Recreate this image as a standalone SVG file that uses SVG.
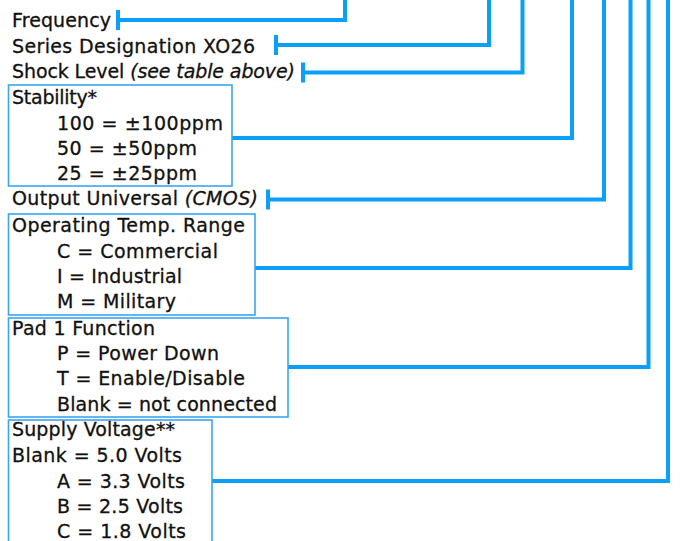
<svg xmlns="http://www.w3.org/2000/svg" width="680" height="541" viewBox="0 0 680 541">
<style>
text{font-family:"DejaVu Sans","Liberation Sans",sans-serif;font-size:19px;fill:#111;stroke:#111;stroke-width:0.3;}
.it{font-style:italic;}
.box{fill:none;stroke:#3aa6ee;stroke-width:1.6;}
.conn{fill:none;stroke:#0aa0fa;stroke-width:4;stroke-linejoin:miter;}
.tk{marker-start:url(#tick);}
</style>
<defs>
<marker id="tick" markerUnits="userSpaceOnUse" markerWidth="6" markerHeight="24" refX="1" refY="12" orient="auto" viewBox="0 0 6 24">
<rect x="0" y="2" width="4" height="20" fill="#0aa0fa"/>
</marker>
</defs>
<rect width="680" height="541" fill="#fff"/>
<g id="connectors">
<path class="conn tk" d="M117,20 H345 V-4"/>
<path class="conn tk" d="M275,45 H489 V-4"/>
<path class="conn tk" d="M302,72.5 H522.5 V-4"/>
<path class="conn" d="M232,138 H572 V-4"/>
<path class="conn tk" d="M267,199.5 H604 V-4"/>
<path class="conn" d="M255,268 H630.5 V-4"/>
<path class="conn" d="M288,367 H648.5 V-4"/>
<path class="conn" d="M212,481 H668 V-4"/>
</g>
<g id="frequency"><text x="12" y="27" textLength="99" lengthAdjust="spacing">Frequency</text></g>
<g id="series"><text x="12" y="53" textLength="243" lengthAdjust="spacing">Series Designation XO26</text></g>
<g id="shock"><text x="12" y="78" textLength="283" lengthAdjust="spacing">Shock Level <tspan class="it">(see table above)</tspan></text></g>
<g id="stability">
<rect class="box" x="8.5" y="85" width="223.5" height="101"/>
<text x="12" y="104" textLength="85" lengthAdjust="spacing">Stability*</text>
<text x="57" y="130" textLength="166" lengthAdjust="spacing">100 = ±100ppm</text>
<text x="57" y="155" textLength="140" lengthAdjust="spacing">50 = ±50ppm</text>
<text x="57" y="180" textLength="140" lengthAdjust="spacing">25 = ±25ppm</text>
</g>
<g id="output"><text x="12" y="205" textLength="246" lengthAdjust="spacing">Output Universal <tspan class="it">(CMOS)</tspan></text></g>
<g id="temp">
<rect class="box" x="8.5" y="214" width="246.5" height="101"/>
<text x="12" y="232" textLength="233" lengthAdjust="spacing">Operating Temp. Range</text>
<text x="57" y="258" textLength="161" lengthAdjust="spacing">C = Commercial</text>
<text x="57" y="283" textLength="125" lengthAdjust="spacing">I = Industrial</text>
<text x="57" y="308" textLength="119" lengthAdjust="spacing">M = Military</text>
</g>
<g id="pad1">
<rect class="box" x="8.5" y="318" width="279.5" height="99"/>
<text x="12" y="335" textLength="143" lengthAdjust="spacing">Pad 1 Function</text>
<text x="57" y="360" textLength="162" lengthAdjust="spacing">P = Power Down</text>
<text x="57" y="385" textLength="188" lengthAdjust="spacing">T = Enable/Disable</text>
<text x="57" y="411" textLength="220" lengthAdjust="spacing">Blank = not connected</text>
</g>
<g id="supply">
<rect class="box" x="8.5" y="420" width="203.5" height="130"/>
<text x="12" y="436" textLength="163" lengthAdjust="spacing">Supply Voltage**</text>
<text x="12" y="462" textLength="170" lengthAdjust="spacing">Blank = 5.0 Volts</text>
<text x="57" y="488" textLength="128" lengthAdjust="spacing">A = 3.3 Volts</text>
<text x="57" y="513" textLength="126" lengthAdjust="spacing">B = 2.5 Volts</text>
<text x="57" y="538" textLength="129" lengthAdjust="spacing">C = 1.8 Volts</text>
</g>
</svg>
